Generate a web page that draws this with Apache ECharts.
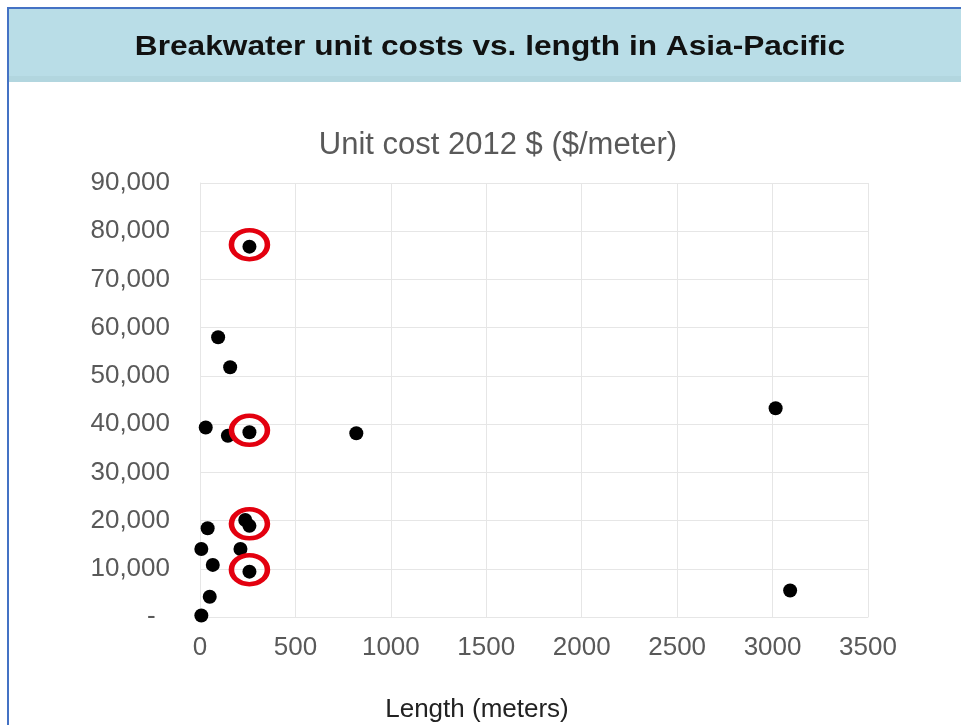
<!DOCTYPE html>
<html lang="en">
  <head>
    <meta charset="UTF-8" />
    <title>Breakwater unit costs vs. length in Asia-Pacific</title>
    <script src="https://cdn.jsdelivr.net/npm/echarts/dist/echarts.min.js"></script>
    <style>
      html, body { margin: 0; padding: 0; background: #fff; }
      #main { width: 961px; height: 725px; }
    </style>
  </head>
  <body>
    <div id="main"></div>
    <script>
      // project length (m) and unit cost (2012 $/m)
      var lengths = [259, 95, 158, 30, 146, 259, 819, 40, 237, 259, 7, 212, 67, 259, 51, 7, 3016, 3092];
      var costs = [76800, 58000, 51800, 39300, 37600, 38300, 38100, 18400, 20100, 18900, 14100, 14100, 10800, 9400, 4200, 300, 43300, 5500];

      // the points circled in red
      var ringLengths = [259, 259, 259, 259];
      var ringCosts = [76800, 38300, 18900, 9400];

      var xTicks = { min: 0, max: 3500, interval: 500 };
      var yTicks = { min: 0, max: 90000, interval: 10000 };

      var points = lengths.map(function (l, i) { return [l, costs[i]]; });
      var rings = ringLengths.map(function (l, i) { return [l, ringCosts[i]]; });

      var myChart = echarts.init(document.getElementById("main"));
      var grey = "#595959";
      var gridColor = "#e6e6e6";

      var option = {
        animation: false,
        textStyle: { fontFamily: "Liberation Sans, Arial, sans-serif" },
        graphic: [
          // header band
          { type: "rect", left: 8, top: 8, shape: { width: 953, height: 74 },
            style: { fill: "#b9dde7" }, silent: true },
          { type: "rect", left: 8, top: 76, shape: { width: 953, height: 6 },
            style: { fill: "#b2d6df" }, silent: true },
          // frame lines
          { type: "rect", left: 7, top: 7, shape: { width: 954, height: 2 },
            style: { fill: "#4472c4" }, silent: true },
          { type: "rect", left: 7, top: 7, shape: { width: 2, height: 718 },
            style: { fill: "#4472c4" }, silent: true },
          {
            type: "text",
            x: 490,
            y: 47,
            scaleX: 1.13,
            style: {
              text: "Breakwater unit costs vs. length in Asia-Pacific",
              font: "bold 28px 'Liberation Sans', Arial, sans-serif",
              fill: "#111",
              align: "center",
              verticalAlign: "middle"
            }
          }
        ],
        title: {
          text: "Unit cost 2012 $ ($/meter)",
          left: 493,
          top: 125,
          textAlign: "center",
          textStyle: { fontSize: 31, fontWeight: "normal", color: grey }
        },
        grid: { left: 200, right: 93, top: 183, bottom: 108, outerBoundsMode: "none" },
        xAxis: {
          type: "value",
          min: xTicks.min,
          max: xTicks.max,
          interval: xTicks.interval,
          name: "Length (meters)",
          nameLocation: "middle",
          nameGap: 80,
          nameTextStyle: { fontSize: 26, color: "#222", padding: [0, 114, 0, 0] },
          axisLine: { show: true, lineStyle: { color: gridColor } },
          axisTick: { show: false },
          axisLabel: {
            fontSize: 26,
            color: grey,
            margin: 18,
            formatter: function (v) { return String(v); }
          },
          splitLine: { show: true, lineStyle: { color: gridColor } }
        },
        yAxis: {
          type: "value",
          min: yTicks.min,
          max: yTicks.max,
          interval: yTicks.interval,
          axisLine: { show: true, lineStyle: { color: gridColor } },
          axisTick: { show: false },
          axisLabel: {
            fontSize: 26,
            color: grey,
            margin: 30,
            formatter: function (v) {
              return v === 0 ? "-  " : v.toLocaleString("en-US");
            }
          },
          splitLine: { show: true, lineStyle: { color: gridColor } }
        },
        series: [
          {
            type: "scatter",
            data: points,
            symbol: "circle",
            symbolSize: 14,
            itemStyle: { color: "#000", opacity: 1 }
          },
          {
            type: "scatter",
            data: rings,
            symbol: "circle",
            symbolSize: [36, 29],
            symbolOffset: [0, -2],
            itemStyle: {
              color: "rgba(0,0,0,0)",
              borderColor: "#e3000f",
              borderWidth: 5,
              opacity: 1
            },
            z: 3
          }
        ]
      };

      myChart.setOption(option);
    </script>
  </body>
</html>
